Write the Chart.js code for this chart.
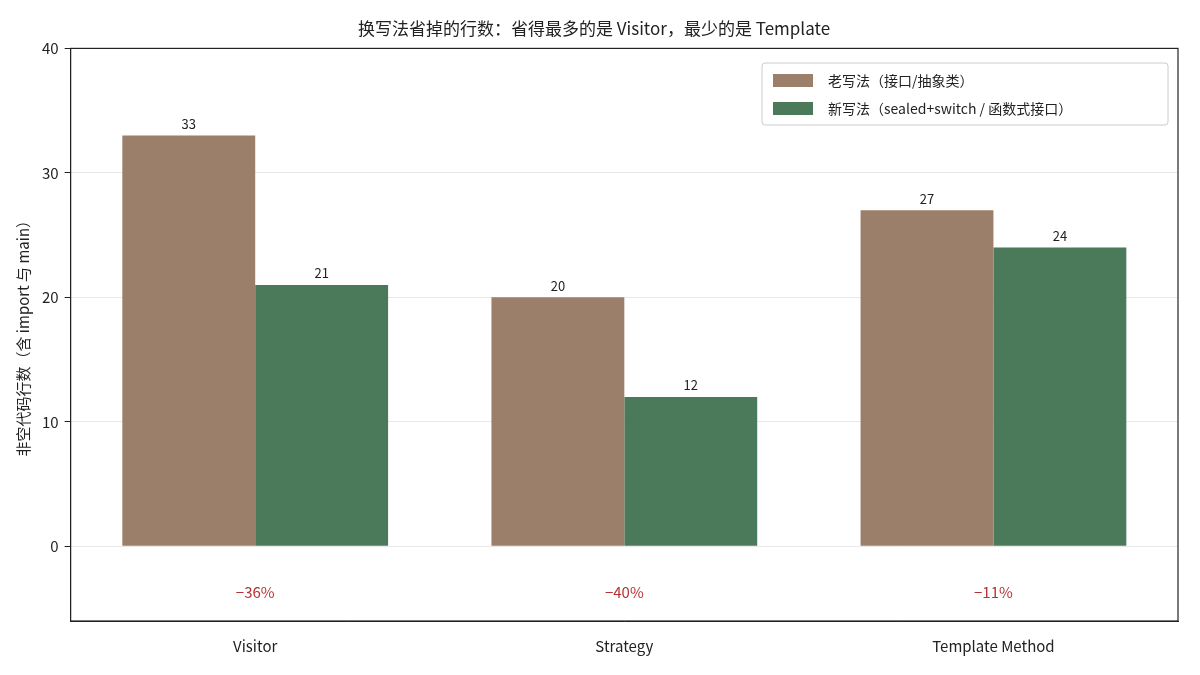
<!DOCTYPE html>
<html><head><meta charset="utf-8">
<script src="https://cdn.jsdelivr.net/npm/chart.js@4"></script>
<style>html,body{margin:0;background:#fff}#w{width:1200px;height:675px}</style>
</head><body><div id="w"><canvas id="c"></canvas></div>
<script>
const categories=['Visitor','Strategy','Template Method'];
const oldVals=[33,20,27];
const newVals=[21,12,24];
const pctLabels=['−36%','−40%','−11%'];
const yTicks=[0,10,20,30,40];
const seriesNames=['老写法（接口/抽象类）','新写法（sealed+switch / 函数式接口）'];
const colors=['#9b7f6a','#4b7a5a'];
const F='"Noto Sans CJK SC","DejaVu Sans",sans-serif';
Chart.defaults.font.family=F;Chart.defaults.color='#222';
const deco={id:'deco',afterDatasetsDraw(ch){
 const c=ch.ctx,a=ch.chartArea,x=ch.scales.x,y=ch.scales.y;
 c.save();c.font='13px '+F;c.fillStyle='#222';c.textAlign='center';c.textBaseline='bottom';
 ch.data.datasets.forEach((d,i)=>{ch.getDatasetMeta(i).data.forEach((b,j)=>{c.fillText(d.data[j],b.x,b.y-5);});});
 c.fillStyle='#b83232';c.font='15px '+F;c.textBaseline='middle';
 categories.forEach((k,j)=>c.fillText(pctLabels[j],x.getPixelForValue(j),y.getPixelForValue(-3.7)));
 c.strokeStyle='#222';c.lineWidth=1.2;c.strokeRect(a.left,a.top,a.right-a.left,a.bottom-a.top);
 // legend
 const lx=762,ly=63,lw=406,lh=62;
 c.fillStyle='rgba(255,255,255,0.9)';c.strokeStyle='#ccc';c.lineWidth=1;
 c.beginPath();c.roundRect(lx,ly,lw,lh,3);c.fill();c.stroke();
 c.textAlign='left';c.font='14px '+F;
 seriesNames.forEach((n,i)=>{const yy=ly+17+i*28;c.fillStyle=colors[i];c.fillRect(lx+11,yy-6,40,13);c.fillStyle='#222';c.fillText(n,lx+66,yy+1);});
 c.restore();}};
new Chart(document.getElementById('c'),{type:'bar',
 data:{labels:categories,datasets:[
  {label:seriesNames[0],data:oldVals,backgroundColor:colors[0]},
  {label:seriesNames[1],data:newVals,backgroundColor:colors[1]}]},
 options:{responsive:true,maintainAspectRatio:false,animation:false,
  layout:{padding:{left:10,right:22,top:8,bottom:12}},
  categoryPercentage:0.72,barPercentage:1,
  plugins:{legend:{display:false},tooltip:{enabled:false},
   title:{display:true,text:'换写法省掉的行数：省得最多的是 Visitor，最少的是 Template',font:{size:17,weight:'normal'},color:'#222',padding:{top:10,bottom:10}}},
  scales:{
   x:{grid:{display:false},border:{color:'#222'},ticks:{font:{size:15},color:'#222',padding:8}},
   y:{min:-6,max:40,afterBuildTicks(s){s.ticks=yTicks.map(v=>({value:v}));},
    grid:{color:'#e8e8e8',drawTicks:true,tickColor:'#222',tickLength:6},border:{color:'#222'},
    ticks:{font:{size:15},color:'#222',padding:6},
    title:{display:true,text:'非空代码行数（含 import 与 main）',font:{size:15},color:'#222'}}}},
 plugins:[deco]});
</script></body></html>
